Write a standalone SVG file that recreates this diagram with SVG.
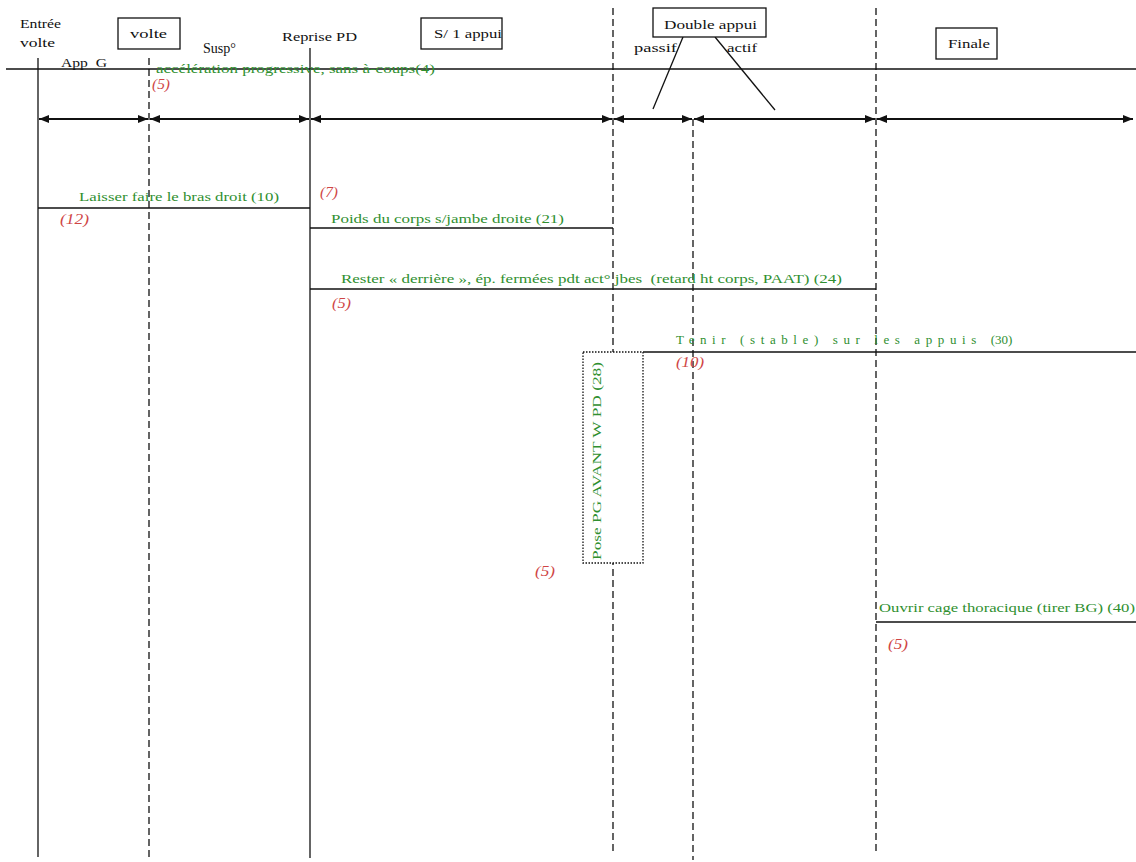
<svg xmlns="http://www.w3.org/2000/svg" width="1136" height="862" viewBox="0 0 1136 862">
<style>
.t{font-family:"Liberation Serif","Times New Roman",Times,serif;font-size:13px;fill:#111}
.g{font-family:"Liberation Serif","Times New Roman",Times,serif;font-size:13px;fill:#2f8f2f}
.r{font-family:"Liberation Serif","Times New Roman",Times,serif;font-size:15px;font-style:italic;fill:#cf4545}
.ln{stroke:#111;stroke-width:1.3;fill:none}
.ds{stroke:#111;stroke-width:1.3;fill:none;stroke-dasharray:7 4}
.ar{stroke:#111;stroke-width:2;fill:none;marker-start:url(#ah);marker-end:url(#ah)}
.bx{fill:#fff;stroke:#111;stroke-width:1.3}
.dot{fill:#fff;stroke:#111;stroke-width:1.3;stroke-dasharray:1.5 1.5}
</style>
<defs>
<marker id="ah" viewBox="0 0 10 8" refX="10" refY="4" markerWidth="10" markerHeight="8" markerUnits="userSpaceOnUse" orient="auto-start-reverse">
<path d="M0,0 L10,4 L0,8 z" fill="#111"/>
</marker>
</defs>
<rect width="1136" height="862" fill="#fff"/>

<g id="connectors">
<line class="ln" x1="6" y1="69" x2="1136" y2="69"/>
<line class="ln" x1="38" y1="58" x2="38" y2="857"/>
<line class="ds" x1="149" y1="58" x2="149" y2="860"/>
<line class="ln" x1="310" y1="48" x2="310" y2="858"/>
<line class="ds" x1="613" y1="8" x2="613" y2="852"/>
<line class="ds" x1="693" y1="119" x2="693" y2="860"/>
<line class="ds" x1="876" y1="8" x2="876" y2="852"/>
<line class="ln" x1="683" y1="37" x2="653" y2="109"/>
<line class="ln" x1="715" y1="37" x2="775" y2="110"/>
<line class="ar" x1="39" y1="119" x2="148" y2="119"/>
<line class="ar" x1="150" y1="119" x2="309" y2="119"/>
<line class="ar" x1="311" y1="119" x2="612" y2="119"/>
<line class="ar" x1="614" y1="119" x2="692" y2="119"/>
<line class="ar" x1="694" y1="119" x2="875" y2="119"/>
<line class="ar" x1="877" y1="119" x2="1133" y2="119"/>
<line class="ln" x1="38" y1="208" x2="310" y2="208"/>
<line class="ln" x1="310" y1="228" x2="613" y2="228"/>
<line class="ln" x1="310" y1="289" x2="876" y2="289"/>
<line class="ln" x1="643" y1="352" x2="1136" y2="352"/>
<line class="ln" x1="876" y1="622" x2="1136" y2="622"/>
</g>

<g id="entree-volte">
<text class="t" x="20" y="28" textLength="41" lengthAdjust="spacingAndGlyphs">Entrée</text>
<text class="t" x="20" y="47" textLength="35" lengthAdjust="spacingAndGlyphs">volte</text>
</g>
<g id="volte">
<rect class="bx" x="118" y="18" width="62" height="31"/>
<text class="t" x="130" y="38" textLength="37" lengthAdjust="spacingAndGlyphs">volte</text>
</g>
<g id="susp">
<text class="t" x="203" y="53" style="font-size:14px" textLength="33" lengthAdjust="spacingAndGlyphs">Susp°</text>
</g>
<g id="reprise-pd">
<text class="t" x="282" y="41" textLength="75" lengthAdjust="spacingAndGlyphs">Reprise PD</text>
</g>
<g id="app-g">
<text class="t" x="61" y="67" textLength="46" lengthAdjust="spacingAndGlyphs" xml:space="preserve">App  G</text>
</g>
<g id="s1-appui">
<rect class="bx" x="421" y="18" width="81" height="31"/>
<text class="t" x="434" y="38" textLength="68" lengthAdjust="spacingAndGlyphs">S/ 1 appui</text>
</g>
<g id="double-appui">
<rect class="bx" x="653" y="8" width="113" height="29"/>
<text class="t" x="664" y="29" textLength="93" lengthAdjust="spacingAndGlyphs">Double appui</text>
<text class="t" x="634" y="52" textLength="43" lengthAdjust="spacingAndGlyphs">passif</text>
<text class="t" x="727" y="52" textLength="30" lengthAdjust="spacingAndGlyphs">actif</text>
</g>
<g id="finale">
<rect class="bx" x="936" y="28" width="61" height="31"/>
<text class="t" x="948" y="48" textLength="42" lengthAdjust="spacingAndGlyphs">Finale</text>
</g>

<g id="acceleration">
<text class="g" x="156" y="73" textLength="279" lengthAdjust="spacingAndGlyphs">accélération progressive, sans à-coups(4)</text>
<text class="r" x="152" y="89" textLength="18" lengthAdjust="spacingAndGlyphs">(5)</text>
</g>
<g id="laisser-faire">
<text class="g" x="79" y="201" textLength="200" lengthAdjust="spacingAndGlyphs">Laisser faire le bras droit (10)</text>
<text class="r" x="60" y="224" textLength="29" lengthAdjust="spacingAndGlyphs">(12)</text>
</g>
<g id="poids-corps">
<text class="r" x="320" y="197" textLength="18" lengthAdjust="spacingAndGlyphs">(7)</text>
<text class="g" x="331" y="223" textLength="233" lengthAdjust="spacingAndGlyphs">Poids du corps s/jambe droite (21)</text>
</g>
<g id="rester-derriere">
<text class="g" x="341" y="283" textLength="501" lengthAdjust="spacingAndGlyphs" xml:space="preserve">Rester « derrière », ép. fermées pdt act° jbes  (retard ht corps, PAAT) (24)</text>
<text class="r" x="332" y="308" textLength="19" lengthAdjust="spacingAndGlyphs">(5)</text>
</g>
<g id="pose-pg">
<rect class="dot" x="583" y="352" width="60" height="211"/>
<text class="g" transform="translate(601,560) rotate(-90)" x="0" y="0" textLength="198" lengthAdjust="spacingAndGlyphs">Pose PG AVANT W PD (28)</text>
<text class="r" x="535" y="576" textLength="20" lengthAdjust="spacingAndGlyphs">(5)</text>
</g>
<g id="tenir-stable">
<text class="g" x="676" y="344"><tspan letter-spacing="5.6">Tenir (stable) sur les appuis </tspan><tspan>(30)</tspan></text>
<text class="r" x="676" y="367" textLength="28" lengthAdjust="spacingAndGlyphs">(10)</text>
</g>
<g id="ouvrir-cage">
<text class="g" x="879" y="612" textLength="256" lengthAdjust="spacingAndGlyphs">Ouvrir cage thoracique (tirer BG) (40)</text>
<text class="r" x="888" y="649" textLength="20" lengthAdjust="spacingAndGlyphs">(5)</text>
</g>
</svg>
